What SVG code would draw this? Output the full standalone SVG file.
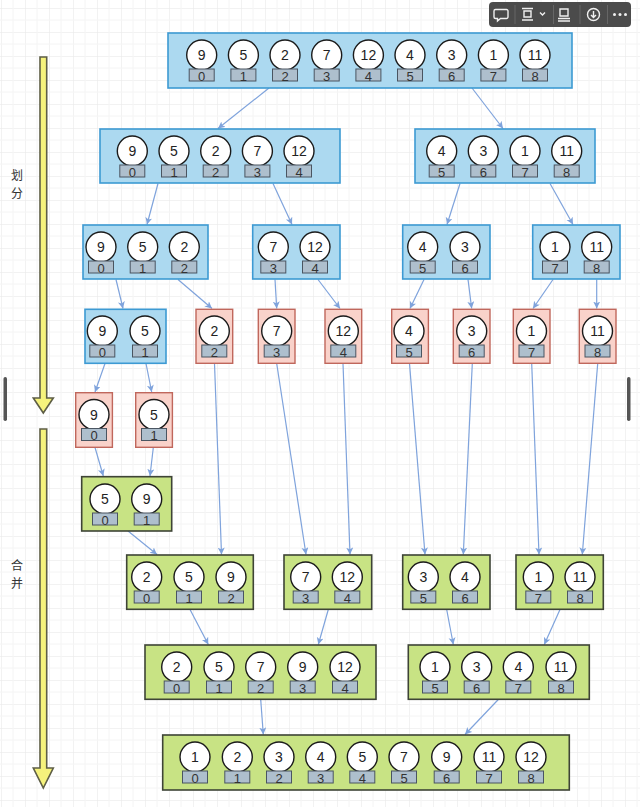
<svg xmlns="http://www.w3.org/2000/svg" width="640" height="807" viewBox="0 0 640 807">
<style>
.bg{fill:#ffffff}
.blue{fill:#acd9f0;stroke:#3d9ad3;stroke-width:1.6}
.red{fill:#f9d2ca;stroke:#c0675c;stroke-width:1.4}
.green{fill:#c8e384;stroke:#3e4436;stroke-width:1.6}
.c{fill:#ffffff;stroke:#1a1a1a;stroke-width:1.4}
.i{fill:#aebfcd;stroke:#4a5561;stroke-width:1}
.v{font-family:"Liberation Sans",Arial,sans-serif;font-size:14px;fill:#222;text-anchor:middle}
.n{font-family:"Liberation Sans",Arial,sans-serif;font-size:13px;fill:#333;text-anchor:middle}
.lbl{font-family:"Noto Sans CJK SC","Noto Sans",sans-serif;font-size:12px;fill:#333;text-anchor:middle}
.e{fill:none;stroke:#7fa3dc;stroke-width:1.2;marker-end:url(#ah)}
.ya{fill:#f5f27c;stroke:#5e5e45;stroke-width:1.6;stroke-linejoin:miter}
.tb{fill:none;stroke:#f0f0f0;stroke-width:1.4}
</style>
<defs>
<pattern id="grid" width="24" height="24" patternUnits="userSpaceOnUse" x="1" y="8">
<path d="M0,0 H24 M0,0 V24" fill="none" stroke="#e6e6e6" stroke-width="1"/>
<path d="M12,0 V24 M0,12 H24" fill="none" stroke="#f4f4f4" stroke-width="1"/>
</pattern>
<marker id="ah" markerWidth="8" markerHeight="8" refX="7" refY="3.5" orient="auto" markerUnits="userSpaceOnUse">
<path d="M0,0 L7,3.5 L0,7 L1.8,3.5 z" fill="#7fa3dc"/>
</marker>
</defs>
<rect class="bg" x="0" y="0" width="640" height="807"/>
<rect x="0" y="0" width="640" height="807" fill="url(#grid)"/>

<!-- side arrows and labels -->
<g id="divide-arrow">
<polygon class="ya" points="40,57 46.7,57 46.7,398 53.3,398 43.3,413 33.3,398 40,398"/>
<text class="lbl" x="17" y="179.5">划</text>
<text class="lbl" x="17" y="198">分</text>
</g>
<g id="merge-arrow">
<polygon class="ya" points="40,429 46.7,429 46.7,768 53.3,768 43.3,788 33.3,768 40,768"/>
<text class="lbl" x="17" y="569.5">合</text>
<text class="lbl" x="17" y="588">并</text>
</g>

<!-- connectors -->
<g id="connectors">
<line class="e" x1="269" y1="88" x2="218" y2="128.5"/>
<line class="e" x1="472" y1="88" x2="503" y2="128.5"/>
<line class="e" x1="158" y1="183.5" x2="147" y2="224.5"/>
<line class="e" x1="273" y1="183.5" x2="292" y2="224.5"/>
<line class="e" x1="460" y1="183.5" x2="447" y2="224.5"/>
<line class="e" x1="550" y1="183.5" x2="573" y2="224.5"/>
<line class="e" x1="116" y1="279.5" x2="123" y2="308.5"/>
<line class="e" x1="178" y1="279.5" x2="212" y2="308.5"/>
<line class="e" x1="275" y1="279.5" x2="276.7" y2="308.5"/>
<line class="e" x1="318" y1="279.5" x2="340" y2="308.5"/>
<line class="e" x1="424" y1="279.5" x2="410" y2="308.5"/>
<line class="e" x1="468" y1="279.5" x2="471.7" y2="308.5"/>
<line class="e" x1="553" y1="279.5" x2="533" y2="308.5"/>
<line class="e" x1="596.7" y1="279.5" x2="596.7" y2="308.5"/>
<line class="e" x1="105" y1="363.5" x2="95" y2="392"/>
<line class="e" x1="146" y1="363.5" x2="151.7" y2="392"/>
<line class="e" x1="95" y1="447.5" x2="103.3" y2="476"/>
<line class="e" x1="153.3" y1="447.5" x2="150" y2="476"/>
<line class="e" x1="128" y1="531" x2="157" y2="554.5"/>
<line class="e" x1="214.5" y1="363.5" x2="221.5" y2="554.5"/>
<line class="e" x1="276.7" y1="363.5" x2="306" y2="554.5"/>
<line class="e" x1="343" y1="363.5" x2="350" y2="554.5"/>
<line class="e" x1="409.5" y1="363.5" x2="425" y2="554.5"/>
<line class="e" x1="472.3" y1="363.5" x2="463.3" y2="554.5"/>
<line class="e" x1="531.7" y1="363.5" x2="539" y2="554.5"/>
<line class="e" x1="597.7" y1="363.5" x2="582.3" y2="554.5"/>
<line class="e" x1="190" y1="609.5" x2="208.3" y2="644.5"/>
<line class="e" x1="328.3" y1="609.5" x2="318.3" y2="644.5"/>
<line class="e" x1="446.7" y1="609.5" x2="453.3" y2="644.5"/>
<line class="e" x1="560" y1="609.5" x2="544.3" y2="644.5"/>
<line class="e" x1="260.7" y1="699.5" x2="263.3" y2="734.5"/>
<line class="e" x1="498.3" y1="699.5" x2="465" y2="734.5"/>
</g>

<!-- level 0 -->
<g id="n0">
<rect class="blue" x="168" y="33" width="404" height="55"/>
<circle class="c" cx="201.7" cy="55" r="15"/><rect class="i" x="189.2" y="69" width="25" height="12"/><text class="v" x="201.7" y="60">9</text><text class="n" x="201.7" y="80.5">0</text>
<circle class="c" cx="243.4" cy="55" r="15"/><rect class="i" x="230.9" y="69" width="25" height="12"/><text class="v" x="243.4" y="60">5</text><text class="n" x="243.4" y="80.5">1</text>
<circle class="c" cx="285" cy="55" r="15"/><rect class="i" x="272.5" y="69" width="25" height="12"/><text class="v" x="285" y="60">2</text><text class="n" x="285" y="80.5">2</text>
<circle class="c" cx="326.7" cy="55" r="15"/><rect class="i" x="314.2" y="69" width="25" height="12"/><text class="v" x="326.7" y="60">7</text><text class="n" x="326.7" y="80.5">3</text>
<circle class="c" cx="368.4" cy="55" r="15"/><rect class="i" x="355.9" y="69" width="25" height="12"/><text class="v" x="368.4" y="60">12</text><text class="n" x="368.4" y="80.5">4</text>
<circle class="c" cx="410" cy="55" r="15"/><rect class="i" x="397.5" y="69" width="25" height="12"/><text class="v" x="410" y="60">4</text><text class="n" x="410" y="80.5">5</text>
<circle class="c" cx="451.7" cy="55" r="15"/><rect class="i" x="439.2" y="69" width="25" height="12"/><text class="v" x="451.7" y="60">3</text><text class="n" x="451.7" y="80.5">6</text>
<circle class="c" cx="493.4" cy="55" r="15"/><rect class="i" x="480.9" y="69" width="25" height="12"/><text class="v" x="493.4" y="60">1</text><text class="n" x="493.4" y="80.5">7</text>
<circle class="c" cx="535" cy="55" r="15"/><rect class="i" x="522.5" y="69" width="25" height="12"/><text class="v" x="535" y="60">11</text><text class="n" x="535" y="80.5">8</text>
</g>

<!-- level 1 -->
<g id="n1a">
<rect class="blue" x="100" y="129" width="240" height="54"/>
<circle class="c" cx="132.3" cy="151" r="15"/><rect class="i" x="119.8" y="165" width="25" height="12"/><text class="v" x="132.3" y="156">9</text><text class="n" x="132.3" y="176.5">0</text>
<circle class="c" cx="174" cy="151" r="15"/><rect class="i" x="161.5" y="165" width="25" height="12"/><text class="v" x="174" y="156">5</text><text class="n" x="174" y="176.5">1</text>
<circle class="c" cx="215.7" cy="151" r="15"/><rect class="i" x="203.2" y="165" width="25" height="12"/><text class="v" x="215.7" y="156">2</text><text class="n" x="215.7" y="176.5">2</text>
<circle class="c" cx="257.4" cy="151" r="15"/><rect class="i" x="244.9" y="165" width="25" height="12"/><text class="v" x="257.4" y="156">7</text><text class="n" x="257.4" y="176.5">3</text>
<circle class="c" cx="299" cy="151" r="15"/><rect class="i" x="286.5" y="165" width="25" height="12"/><text class="v" x="299" y="156">12</text><text class="n" x="299" y="176.5">4</text>
</g>
<g id="n1b">
<rect class="blue" x="415" y="129" width="180" height="54"/>
<circle class="c" cx="441.7" cy="151" r="15"/><rect class="i" x="429.2" y="165" width="25" height="12"/><text class="v" x="441.7" y="156">4</text><text class="n" x="441.7" y="176.5">5</text>
<circle class="c" cx="483.3" cy="151" r="15"/><rect class="i" x="470.8" y="165" width="25" height="12"/><text class="v" x="483.3" y="156">3</text><text class="n" x="483.3" y="176.5">6</text>
<circle class="c" cx="525" cy="151" r="15"/><rect class="i" x="512.5" y="165" width="25" height="12"/><text class="v" x="525" y="156">1</text><text class="n" x="525" y="176.5">7</text>
<circle class="c" cx="566.7" cy="151" r="15"/><rect class="i" x="554.2" y="165" width="25" height="12"/><text class="v" x="566.7" y="156">11</text><text class="n" x="566.7" y="176.5">8</text>
</g>

<!-- level 2 -->
<g id="n2a">
<rect class="blue" x="83" y="225" width="125" height="54"/>
<circle class="c" cx="101" cy="247" r="15"/><rect class="i" x="88.5" y="261" width="25" height="12"/><text class="v" x="101" y="252">9</text><text class="n" x="101" y="272.5">0</text>
<circle class="c" cx="142.7" cy="247" r="15"/><rect class="i" x="130.2" y="261" width="25" height="12"/><text class="v" x="142.7" y="252">5</text><text class="n" x="142.7" y="272.5">1</text>
<circle class="c" cx="184.3" cy="247" r="15"/><rect class="i" x="171.8" y="261" width="25" height="12"/><text class="v" x="184.3" y="252">2</text><text class="n" x="184.3" y="272.5">2</text>
</g>
<g id="n2b">
<rect class="blue" x="252.7" y="225" width="87.3" height="54"/>
<circle class="c" cx="273.3" cy="247" r="15"/><rect class="i" x="260.8" y="261" width="25" height="12"/><text class="v" x="273.3" y="252">7</text><text class="n" x="273.3" y="272.5">3</text>
<circle class="c" cx="315" cy="247" r="15"/><rect class="i" x="302.5" y="261" width="25" height="12"/><text class="v" x="315" y="252">12</text><text class="n" x="315" y="272.5">4</text>
</g>
<g id="n2c">
<rect class="blue" x="402.7" y="225" width="87.3" height="54"/>
<circle class="c" cx="422.7" cy="247" r="15"/><rect class="i" x="410.2" y="261" width="25" height="12"/><text class="v" x="422.7" y="252">4</text><text class="n" x="422.7" y="272.5">5</text>
<circle class="c" cx="465" cy="247" r="15"/><rect class="i" x="452.5" y="261" width="25" height="12"/><text class="v" x="465" y="252">3</text><text class="n" x="465" y="272.5">6</text>
</g>
<g id="n2d">
<rect class="blue" x="532.7" y="225" width="87.3" height="54"/>
<circle class="c" cx="555" cy="247" r="15"/><rect class="i" x="542.5" y="261" width="25" height="12"/><text class="v" x="555" y="252">1</text><text class="n" x="555" y="272.5">7</text>
<circle class="c" cx="596.7" cy="247" r="15"/><rect class="i" x="584.2" y="261" width="25" height="12"/><text class="v" x="596.7" y="252">11</text><text class="n" x="596.7" y="272.5">8</text>
</g>

<!-- level 3 -->
<g id="n3a">
<rect class="blue" x="85" y="309.3" width="81" height="54"/>
<circle class="c" cx="102.3" cy="331" r="15"/><rect class="i" x="89.8" y="345" width="25" height="12"/><text class="v" x="102.3" y="336">9</text><text class="n" x="102.3" y="356.5">0</text>
<circle class="c" cx="145" cy="331" r="15"/><rect class="i" x="132.5" y="345" width="25" height="12"/><text class="v" x="145" y="336">5</text><text class="n" x="145" y="356.5">1</text>
</g>
<g id="r2">
<rect class="red" x="196" y="309.3" width="36.7" height="54"/>
<circle class="c" cx="214.3" cy="331" r="15"/><rect class="i" x="201.8" y="345" width="25" height="12"/><text class="v" x="214.3" y="336">2</text><text class="n" x="214.3" y="356.5">2</text>
</g>
<g id="r7">
<rect class="red" x="258.3" y="309.3" width="36.7" height="54"/>
<circle class="c" cx="276.7" cy="331" r="15"/><rect class="i" x="264.2" y="345" width="25" height="12"/><text class="v" x="276.7" y="336">7</text><text class="n" x="276.7" y="356.5">3</text>
</g>
<g id="r12">
<rect class="red" x="325" y="309.3" width="36.7" height="54"/>
<circle class="c" cx="343.3" cy="331" r="15"/><rect class="i" x="330.8" y="345" width="25" height="12"/><text class="v" x="343.3" y="336">12</text><text class="n" x="343.3" y="356.5">4</text>
</g>
<g id="r4">
<rect class="red" x="391.7" y="309.3" width="36.7" height="54"/>
<circle class="c" cx="409" cy="331" r="15"/><rect class="i" x="396.5" y="345" width="25" height="12"/><text class="v" x="409" y="336">4</text><text class="n" x="409" y="356.5">5</text>
</g>
<g id="r3">
<rect class="red" x="453.3" y="309.3" width="36.7" height="54"/>
<circle class="c" cx="471.7" cy="331" r="15"/><rect class="i" x="459.2" y="345" width="25" height="12"/><text class="v" x="471.7" y="336">3</text><text class="n" x="471.7" y="356.5">6</text>
</g>
<g id="r1">
<rect class="red" x="513.3" y="309.3" width="36.7" height="54"/>
<circle class="c" cx="531.5" cy="331" r="15"/><rect class="i" x="519" y="345" width="25" height="12"/><text class="v" x="531.5" y="336">1</text><text class="n" x="531.5" y="356.5">7</text>
</g>
<g id="r11">
<rect class="red" x="579.3" y="309.3" width="36.7" height="54"/>
<circle class="c" cx="597.5" cy="331" r="15"/><rect class="i" x="585" y="345" width="25" height="12"/><text class="v" x="597.5" y="336">11</text><text class="n" x="597.5" y="356.5">8</text>
</g>

<!-- level 4 -->
<g id="r9">
<rect class="red" x="75.7" y="392.7" width="36.7" height="54.6"/>
<circle class="c" cx="94" cy="414.5" r="15"/><rect class="i" x="81.5" y="428.5" width="25" height="12"/><text class="v" x="94" y="419.5">9</text><text class="n" x="94" y="440">0</text>
</g>
<g id="r5">
<rect class="red" x="135.7" y="392.7" width="36.7" height="54.6"/>
<circle class="c" cx="154" cy="414.5" r="15"/><rect class="i" x="141.5" y="428.5" width="25" height="12"/><text class="v" x="154" y="419.5">5</text><text class="n" x="154" y="440">1</text>
</g>

<!-- merge 1 -->
<g id="m1">
<rect class="green" x="81.7" y="476.7" width="90" height="54.3"/>
<circle class="c" cx="105" cy="499" r="15"/><rect class="i" x="92.5" y="513" width="25" height="12"/><text class="v" x="105" y="504">5</text><text class="n" x="105" y="524.5">0</text>
<circle class="c" cx="146.7" cy="499" r="15"/><rect class="i" x="134.2" y="513" width="25" height="12"/><text class="v" x="146.7" y="504">9</text><text class="n" x="146.7" y="524.5">1</text>
</g>

<!-- merge 2 -->
<g id="m2a">
<rect class="green" x="126.7" y="555" width="126.6" height="54.3"/>
<circle class="c" cx="146.7" cy="577" r="15"/><rect class="i" x="134.2" y="591" width="25" height="12"/><text class="v" x="146.7" y="582">2</text><text class="n" x="146.7" y="602.5">0</text>
<circle class="c" cx="189" cy="577" r="15"/><rect class="i" x="176.5" y="591" width="25" height="12"/><text class="v" x="189" y="582">5</text><text class="n" x="189" y="602.5">1</text>
<circle class="c" cx="231" cy="577" r="15"/><rect class="i" x="218.5" y="591" width="25" height="12"/><text class="v" x="231" y="582">9</text><text class="n" x="231" y="602.5">2</text>
</g>
<g id="m2b">
<rect class="green" x="284" y="555" width="87.7" height="54.3"/>
<circle class="c" cx="305.7" cy="577" r="15"/><rect class="i" x="293.2" y="591" width="25" height="12"/><text class="v" x="305.7" y="582">7</text><text class="n" x="305.7" y="602.5">3</text>
<circle class="c" cx="347.3" cy="577" r="15"/><rect class="i" x="334.8" y="591" width="25" height="12"/><text class="v" x="347.3" y="582">12</text><text class="n" x="347.3" y="602.5">4</text>
</g>
<g id="m2c">
<rect class="green" x="402.7" y="555" width="87.3" height="54.3"/>
<circle class="c" cx="423.3" cy="577" r="15"/><rect class="i" x="410.8" y="591" width="25" height="12"/><text class="v" x="423.3" y="582">3</text><text class="n" x="423.3" y="602.5">5</text>
<circle class="c" cx="465" cy="577" r="15"/><rect class="i" x="452.5" y="591" width="25" height="12"/><text class="v" x="465" y="582">4</text><text class="n" x="465" y="602.5">6</text>
</g>
<g id="m2d">
<rect class="green" x="516" y="555" width="87.3" height="54.3"/>
<circle class="c" cx="538.3" cy="577" r="15"/><rect class="i" x="525.8" y="591" width="25" height="12"/><text class="v" x="538.3" y="582">1</text><text class="n" x="538.3" y="602.5">7</text>
<circle class="c" cx="580" cy="577" r="15"/><rect class="i" x="567.5" y="591" width="25" height="12"/><text class="v" x="580" y="582">11</text><text class="n" x="580" y="602.5">8</text>
</g>

<!-- merge 3 -->
<g id="m3a">
<rect class="green" x="145" y="645" width="231" height="54.3"/>
<circle class="c" cx="176.7" cy="667" r="15"/><rect class="i" x="164.2" y="681" width="25" height="12"/><text class="v" x="176.7" y="672">2</text><text class="n" x="176.7" y="692.5">0</text>
<circle class="c" cx="219" cy="667" r="15"/><rect class="i" x="206.5" y="681" width="25" height="12"/><text class="v" x="219" y="672">5</text><text class="n" x="219" y="692.5">1</text>
<circle class="c" cx="260.7" cy="667" r="15"/><rect class="i" x="248.2" y="681" width="25" height="12"/><text class="v" x="260.7" y="672">7</text><text class="n" x="260.7" y="692.5">2</text>
<circle class="c" cx="302.7" cy="667" r="15"/><rect class="i" x="290.2" y="681" width="25" height="12"/><text class="v" x="302.7" y="672">9</text><text class="n" x="302.7" y="692.5">3</text>
<circle class="c" cx="345" cy="667" r="15"/><rect class="i" x="332.5" y="681" width="25" height="12"/><text class="v" x="345" y="672">12</text><text class="n" x="345" y="692.5">4</text>
</g>
<g id="m3b">
<rect class="green" x="408.3" y="645" width="181" height="54.3"/>
<circle class="c" cx="435" cy="667" r="15"/><rect class="i" x="422.5" y="681" width="25" height="12"/><text class="v" x="435" y="672">1</text><text class="n" x="435" y="692.5">5</text>
<circle class="c" cx="476.7" cy="667" r="15"/><rect class="i" x="464.2" y="681" width="25" height="12"/><text class="v" x="476.7" y="672">3</text><text class="n" x="476.7" y="692.5">6</text>
<circle class="c" cx="518.3" cy="667" r="15"/><rect class="i" x="505.8" y="681" width="25" height="12"/><text class="v" x="518.3" y="672">4</text><text class="n" x="518.3" y="692.5">7</text>
<circle class="c" cx="561" cy="667" r="15"/><rect class="i" x="548.5" y="681" width="25" height="12"/><text class="v" x="561" y="672">11</text><text class="n" x="561" y="692.5">8</text>
</g>

<!-- final -->
<g id="m4">
<rect class="green" x="162.7" y="735" width="406.6" height="55"/>
<circle class="c" cx="195" cy="757" r="15"/><rect class="i" x="182.5" y="771" width="25" height="12"/><text class="v" x="195" y="762">1</text><text class="n" x="195" y="782.5">0</text>
<circle class="c" cx="237.3" cy="757" r="15"/><rect class="i" x="224.8" y="771" width="25" height="12"/><text class="v" x="237.3" y="762">2</text><text class="n" x="237.3" y="782.5">1</text>
<circle class="c" cx="279" cy="757" r="15"/><rect class="i" x="266.5" y="771" width="25" height="12"/><text class="v" x="279" y="762">3</text><text class="n" x="279" y="782.5">2</text>
<circle class="c" cx="320.7" cy="757" r="15"/><rect class="i" x="308.2" y="771" width="25" height="12"/><text class="v" x="320.7" y="762">4</text><text class="n" x="320.7" y="782.5">3</text>
<circle class="c" cx="362.3" cy="757" r="15"/><rect class="i" x="349.8" y="771" width="25" height="12"/><text class="v" x="362.3" y="762">5</text><text class="n" x="362.3" y="782.5">4</text>
<circle class="c" cx="404" cy="757" r="15"/><rect class="i" x="391.5" y="771" width="25" height="12"/><text class="v" x="404" y="762">7</text><text class="n" x="404" y="782.5">5</text>
<circle class="c" cx="446.7" cy="757" r="15"/><rect class="i" x="434.2" y="771" width="25" height="12"/><text class="v" x="446.7" y="762">9</text><text class="n" x="446.7" y="782.5">6</text>
<circle class="c" cx="489" cy="757" r="15"/><rect class="i" x="476.5" y="771" width="25" height="12"/><text class="v" x="489" y="762">11</text><text class="n" x="489" y="782.5">7</text>
<circle class="c" cx="531" cy="757" r="15"/><rect class="i" x="518.5" y="771" width="25" height="12"/><text class="v" x="531" y="762">12</text><text class="n" x="531" y="782.5">8</text>
</g>

<!-- viewer chrome: scroll handles and toolbar -->
<rect x="3.5" y="377" width="3.5" height="44" rx="1.7" fill="#555"/>
<rect x="627" y="377" width="3.5" height="44" rx="1.7" fill="#555"/>
<g id="toolbar">
<rect x="489" y="2" width="142" height="25" rx="4" fill="#4b4b4b"/>
<path d="M515,5 V24 M553.5,5 V24 M580,5 V24 M607.5,5 V24" stroke="#666" stroke-width="1"/>
<path class="tb" d="M495.5,9.5 h11 a1.5,1.5 0 0 1 1.5,1.5 v6 a1.5,1.5 0 0 1 -1.5,1.5 h-6 l-3,2.5 v-2.5 h-2 a1.5,1.5 0 0 1 -1.5,-1.5 v-6 a1.5,1.5 0 0 1 1.5,-1.5 z"/>
<path class="tb" d="M522,8.5 h11 M524,11 h7 v6 h-7 z M522,20 h11"/>
<path class="tb" d="M540,12.5 l2.5,2.5 l2.5,-2.5"/>
<path class="tb" d="M560,9 h8 v7 h-8 z M558,18.5 h12 M558,21 h12"/>
<circle class="tb" cx="593.5" cy="14.5" r="6"/>
<path class="tb" d="M593.5,11 v6 M591,15 l2.5,2.5 l2.5,-2.5"/>
<circle cx="614.5" cy="14.5" r="1.5" fill="#f0f0f0"/>
<circle cx="620" cy="14.5" r="1.5" fill="#f0f0f0"/>
<circle cx="625.5" cy="14.5" r="1.5" fill="#f0f0f0"/>
</g>
</svg>
